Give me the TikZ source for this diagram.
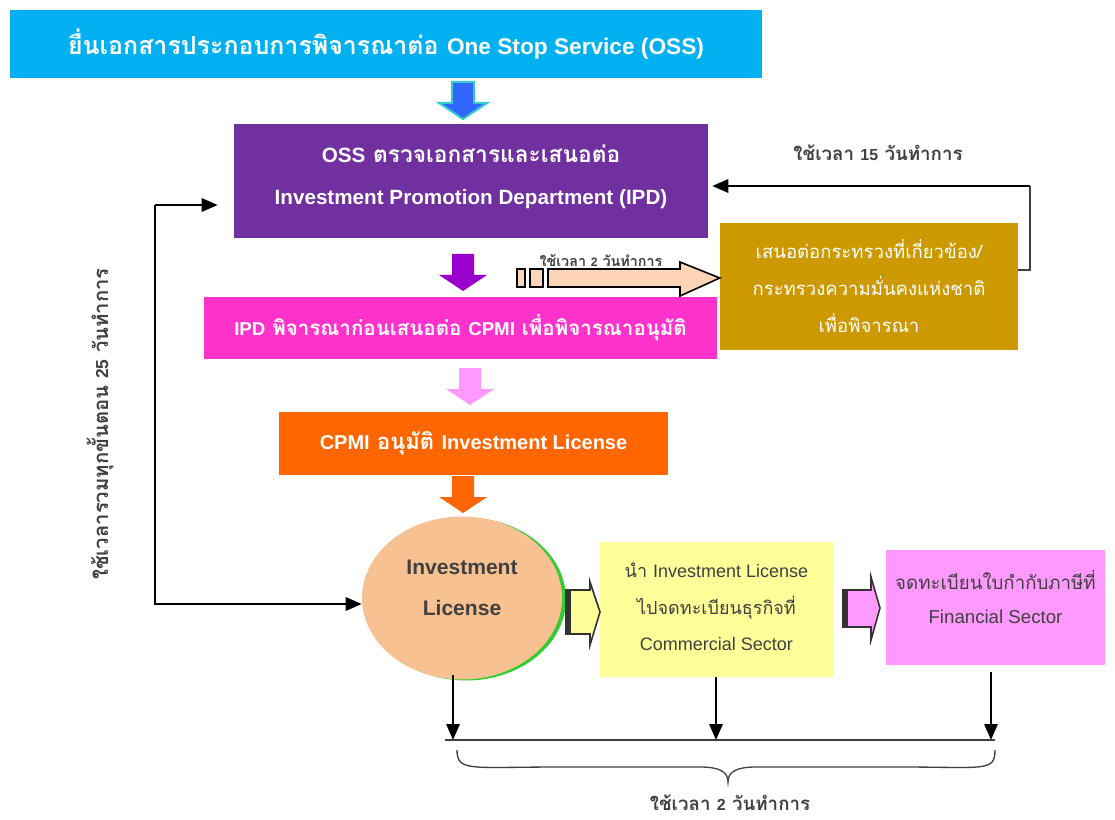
\documentclass[tikz,border=0pt]{standalone}
\usepackage{fontspec}
\setmainfont{Loma}[Script=Thai]
\newfontfamily\thb{Loma}[Script=Thai, Scale=1.1]
\newfontfamily\thl{Loma}[Script=Thai, Scale=1.17]
\newfontfamily\enf{Liberation Sans}
\newcommand\EN[1]{{\enf #1}}
\usetikzlibrary{shapes.geometric,arrows.meta}
\definecolor{cyanbox}{HTML}{00B0F0}
\definecolor{purplebox}{HTML}{7030A0}
\definecolor{magbox}{HTML}{FF33CC}
\definecolor{goldbox}{HTML}{CC9900}
\definecolor{orangebox}{HTML}{FF6600}
\definecolor{yelbox}{HTML}{FFFF99}
\definecolor{pinkbox}{HTML}{FF99FF}
\definecolor{peach}{HTML}{F8C192}
\definecolor{peachlight}{HTML}{FBD5B5}
\definecolor{txtgray}{HTML}{404040}
\definecolor{blueA}{HTML}{3366FF}
\definecolor{tealA}{HTML}{33CCCC}
\definecolor{violetA}{HTML}{9900CC}
\tikzset{
  box/.style={rectangle, inner sep=0pt, align=center, text=white},
  lbl/.style={text=txtgray, font=\bfseries\thl\fontsize{12}{14}\selectfont, inner sep=0pt},
  arr/.style={line width=1.6pt, -{Triangle[length=12pt,width=10pt]}},
  downarrow/.pic={\path[pic actions] (-11,0) -- (11,0) -- (11,21) -- (24,21) -- (0,37) -- (-24,21) -- (-11,21) -- cycle;},
}
\begin{document}
\begin{tikzpicture}[x=0.75pt,y=-0.75pt]
\useasboundingbox (0,0) rectangle (1115,820);
% boxes
\node[box, fill=cyanbox, minimum width=564pt, minimum height=51pt, font=\bfseries\thb\fontsize{17}{20}\selectfont] (oss) at (386,44) {ยื่นเอกสารประกอบการพิจารณาต่อ \EN{One Stop Service (OSS)}};
\node[box, fill=purplebox, minimum width=355.5pt, minimum height=85.5pt] (ipd) at (471,181) {};
\node[align=center, text=white, inner sep=0pt, font=\bfseries\thb\fontsize{15.5}{31.5}\selectfont] (ipdtxt) at (471,177) {\EN{OSS} ตรวจเอกสารและเสนอต่อ\\\EN{Investment Promotion Department (IPD)}};
\node[box, fill=magbox, minimum width=384.75pt, minimum height=46.5pt, font=\bfseries\thb\fontsize{14}{16}\selectfont] (mag) at (460.5,328) {\EN{IPD} พิจารณาก่อนเสนอต่อ \EN{CPMI} เพื่อพิจารณาอนุมัติ};
\node[box, fill=goldbox, minimum width=223.5pt, minimum height=95.25pt, font=\fontsize{13.9}{27.75}\selectfont] (gold) at (869,286.5) {เสนอต่อกระทรวงที่เกี่ยวข้อง/\\กระทรวงความมั่นคงแห่งชาติ\\เพื่อพิจารณา};
\node[box, fill=orangebox, minimum width=291.75pt, minimum height=47.25pt, font=\bfseries\thb\fontsize{15}{17}\selectfont] (cpmi) at (473.5,443.5) {\EN{CPMI} อนุมัติ \EN{Investment License}};
\fill[green!75!black!80] (466,599) ellipse (100 and 81.5);
\node[ellipse, fill=peach, inner sep=0pt, minimum width=150pt, minimum height=122.25pt] (lic) at (462,598) {};
\node[align=center, text=txtgray, inner sep=0pt, font=\bfseries\enf\fontsize{15.8}{31}\selectfont] (lictxt) at (462,588) {Investment\\License};
\node[box, fill=yelbox, minimum width=174.75pt, minimum height=101.25pt] (com) at (716.5,609.5) {};
\node[align=center, text=txtgray, inner sep=0pt, font=\fontsize{13.5}{27.4}\selectfont] (comtxt) at (716.5,607) {นำ \EN{Investment License}\\ไปจดทะเบียนธุรกิจที่\\\EN{Commercial Sector}};
\node[box, fill=pinkbox, minimum width=164.25pt, minimum height=86.25pt] (fin) at (995.5,607.5) {};
\node[align=center, text=txtgray, inner sep=0pt, font=\fontsize{14}{26}\selectfont] (fintxt) at (995.5,597) {จดทะเบียนใบกำกับภาษีที่\\\EN{Financial Sector}};
% block arrows down
\pic[fill=blueA, draw=tealA, line width=1.5pt] at (463,82) {downarrow};
\pic[fill=violetA] at (463,254) {downarrow};
\pic[fill=pinkbox] at (470,368) {downarrow};
\pic[fill=orangebox] at (463,476) {downarrow};
% striped arrow to gold box
\coordinate (sa) at (517,278);
\draw[fill=peachlight, line width=1pt] (517,269) rectangle (525,287);
\draw[fill=peachlight, line width=1pt] (530,269) rectangle (543,287);
\draw[fill=peachlight, line width=1.2pt] (548,269) -- (680,269) -- (680,262) -- (gold.west |- sa) -- (680,296) -- (680,287) -- (548,287) -- cycle;
\node[lbl, font=\bfseries\thl\fontsize{9.2}{11}\selectfont] (l2a) at (601,261) {ใช้เวลา \EN{2} วันทำการ};
% return arrow
\coordinate (r0) at (1030,270);
\coordinate (r1) at (1030,186);
\draw[line width=1.2pt, draw=txtgray] (gold.east |- r0) -- (r0) -- (r1);
\draw[arr] (r1) -- ([xshift=3pt]ipd.east |- r1);
\node[lbl] (l15) at (878,153) {ใช้เวลา \EN{15} วันทำการ};
% left loop arrow
\coordinate (la) at (155,205);
\coordinate (lb) at (155,604);
\draw[arr] (la) -- ([xshift=-12pt]ipd.west |- la);
\draw[arr] (la) -- (lb) -- (lic.west |- lb);
\node[lbl, rotate=90, font=\bfseries\thl\fontsize{13}{15}\selectfont] (l25) at (100,424) {ใช้เวลารวมทุกขั้นตอน \EN{25} วันทำการ};
% small striped arrows
\draw[fill=yelbox, draw=black!80, line width=1.2pt] (566,590) -- (590,590) -- (590,582) -- (600,612) -- (590,645) -- (590,634) -- (566,634) -- cycle;
\fill[black!80] (566,590) rectangle (571,634);
\draw[fill=pinkbox, draw=black!80, line width=1.2pt] (843,590) -- (871,590) -- (871,577) -- (880,608) -- (871,640) -- (871,627) -- (843,627) -- cycle;
\fill[black!80] (843,590) rectangle (848,627);
% bottom arrows
\coordinate (b1) at (453,740);
\coordinate (b2) at (716,740);
\coordinate (b3) at (991,740);
\draw[arr] (453,675) -- (b1);
\draw[arr] (com.south -| b2) -- (b2);
\draw[arr] (991,672) -- (b3);
\draw[line width=1.6pt, draw=txtgray] (445,740) -- (995,740);
\draw[line width=1pt, draw=txtgray] (457,750) .. controls (457,772) and (470,767) .. (560,767) -- (700,767) .. controls (720,767) and (728,772) .. (728,782) .. controls (728,772) and (736,767) .. (756,767) -- (900,767) .. controls (985,767) and (995,772) .. (995,750);
\node[lbl] (l2b) at (730,803) {ใช้เวลา \EN{2} วันทำการ};
\end{tikzpicture}
\end{document}
